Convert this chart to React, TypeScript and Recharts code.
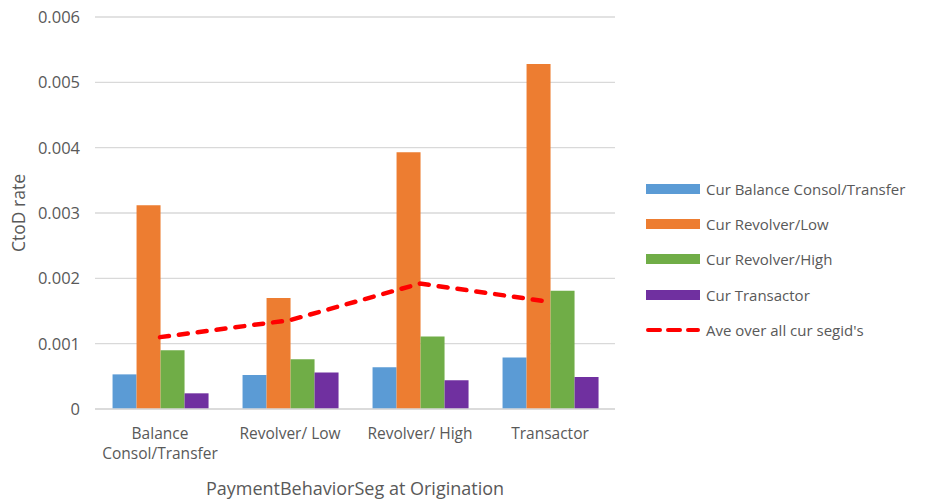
import React from "react";
import {
  ComposedChart,
  Bar,
  Line,
  XAxis,
  YAxis,
  CartesianGrid,
  Legend,
  Text,
} from "recharts";

const categories = [
  "Balance Consol/Transfer",
  "Revolver/ Low",
  "Revolver/ High",
  "Transactor",
];
const curBalance = [0.00053, 0.00052, 0.00064, 0.00079];
const curRevLow = [0.00312, 0.0017, 0.00393, 0.00528];
const curRevHigh = [0.0009, 0.00076, 0.00111, 0.00181];
const curTransactor = [0.00024, 0.00056, 0.00044, 0.00049];
const aveAll = [0.0011, 0.00136, 0.00192, 0.00164];
const yTicks = [0, 0.001, 0.002, 0.003, 0.004, 0.005, 0.006];

const seriesNames = [
  "Cur Balance Consol/Transfer",
  "Cur Revolver/Low",
  "Cur Revolver/High",
  "Cur Transactor",
  "Ave over all cur segid's",
];

const data = categories.map((c, i) => ({
  cat: c,
  b: curBalance[i],
  rl: curRevLow[i],
  rh: curRevHigh[i],
  t: curTransactor[i],
  ave: aveAll[i],
}));

const FONT = "'Open Sans', sans-serif";
const TEXT = "#595959";

const XTick = (props: any) => {
  const { x, y, payload } = props;
  return (
    <Text
      x={x}
      y={y + 11}
      width={125}
      textAnchor="middle"
      verticalAnchor="start"
      lineHeight={20}
      fill={TEXT}
      fontSize={15.5}
      fontFamily={FONT}
    >
      {payload.value}
    </Text>
  );
};

const LegendContent = (props: any) => {
  const payload = [...(props.payload || [])].sort(
    (a: any, b: any) => seriesNames.indexOf(a.value) - seriesNames.indexOf(b.value)
  );
  return (
    <div style={{ fontFamily: FONT, fontSize: 15, color: TEXT }}>
      {payload.map((p: any, i: number) => (
        <div
          key={i}
          style={{ display: "flex", alignItems: "center", height: 35.4 }}
        >
          <svg width={54} height={12} style={{ marginRight: 6 }}>
            {p.type === "line" ? (
              <line
                x1={2}
                y1={6}
                x2={52}
                y2={6}
                stroke={p.color}
                strokeWidth={4}
                strokeLinecap="round"
                strokeDasharray="12 8"
              />
            ) : (
              <rect x={0} y={1} width={54} height={10} fill={p.color} />
            )}
          </svg>
          <span style={{ whiteSpace: "nowrap" }}>{p.value}</span>
        </div>
      ))}
    </div>
  );
};

export default function App() {
  return (
    <div style={{ position: "absolute", left: 0, top: 0 }}>
      <ComposedChart
        width={927}
        height={500}
        data={data}
        margin={{ top: 17, right: 312, bottom: 0, left: 0 }}
        barCategoryGap="13.5%"
        barGap={0}
      >
        <CartesianGrid vertical={false} stroke="#d9d9d9" strokeWidth={1.3} />
        <XAxis
          dataKey="cat"
          height={91}
          axisLine={{ stroke: "#d9d9d9", strokeWidth: 1.3 }}
          tickLine={false}
          tick={<XTick />}
          interval={0}
          label={{
            value: "PaymentBehaviorSeg at Origination",
            position: "insideBottom",
            offset: 5,
            fill: TEXT,
            fontSize: 18,
            fontFamily: FONT,
          }}
        />
        <YAxis
          width={95}
          domain={[0, 0.006]}
          ticks={yTicks}
          axisLine={false}
          tickLine={false}
          tickMargin={9}
          tick={{ fill: TEXT, fontSize: 16.5, fontFamily: FONT }}
          label={{
            value: "CtoD rate",
            angle: -90,
            position: "insideLeft",
            offset: 19,
            fill: TEXT,
            fontSize: 17.5,
            fontFamily: FONT,
            style: { textAnchor: "middle" },
          }}
        />
        <Legend
          layout="horizontal"
          align="center"
          verticalAlign="middle"
          content={<LegendContent />}
          wrapperStyle={{ left: 646, top: 171, width: 281 }}
        />
        <Bar dataKey="b" name={seriesNames[0]} fill="#5b9bd5" isAnimationActive={false} legendType="rect" />
        <Bar dataKey="rl" name={seriesNames[1]} fill="#ed7d31" isAnimationActive={false} legendType="rect" />
        <Bar dataKey="rh" name={seriesNames[2]} fill="#70ad47" isAnimationActive={false} legendType="rect" />
        <Bar dataKey="t" name={seriesNames[3]} fill="#7030a0" isAnimationActive={false} legendType="rect" />
        <Line
          dataKey="ave"
          name={seriesNames[4]}
          stroke="#ff0000"
          strokeWidth={4.5}
          strokeDasharray="9 10"
          strokeLinecap="round"
          dot={false}
          type="linear"
          legendType="line"
          isAnimationActive={false}
        />
      </ComposedChart>
    </div>
  );
}
